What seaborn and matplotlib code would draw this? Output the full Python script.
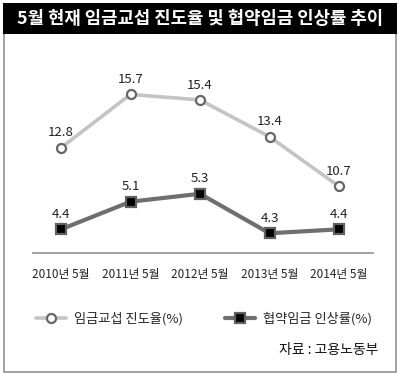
import numpy as np
import matplotlib
matplotlib.use("Agg")
import matplotlib.pyplot as plt
import seaborn as sns
from matplotlib.patches import Rectangle

years = ['2010년 5월', '2011년 5월', '2012년 5월', '2013년 5월', '2014년 5월']
progress_rate = [12.8, 15.7, 15.4, 13.4, 10.7]
wage_increase = [4.4, 5.1, 5.3, 4.3, 4.4]
progress_label = '임금교섭 진도율(%)'
wage_label = '협약임금 인상률(%)'
title_text = '5월 현재 임금교섭 진도율 및 협약임금 인상률 추이'
source_text = '자료 : 고용노동부'

sns.set_style('white')
plt.rcParams['font.family'] = ['Noto Sans CJK KR', 'DejaVu Sans']

W, H = 400, 380
fig = plt.figure(figsize=(4, 3.8), dpi=100)


def px_box(x0, y0, x1, y1):
    # pixel box (top-left origin) -> figure fraction rect
    return [x0 / W, 1 - y1 / H, (x1 - x0) / W, (y1 - y0) / H]


# frame and title bar
fig.patches.append(Rectangle((4 / W, 1 - 372 / H), 392 / W, 340 / H, transform=fig.transFigure,
                             facecolor='none', edgecolor='#9a9a9a', linewidth=1.3))
fig.patches.append(Rectangle((3 / W, 1 - 34 / H), 394 / W, 31 / H, transform=fig.transFigure,
                             facecolor='black', edgecolor='none'))
fig.text(0.5, 1 - 19 / H, title_text, color='white', fontsize=12.8, fontweight='bold',
         ha='center', va='center')

ax = fig.add_axes(px_box(33, 60, 373, 253))
ax2 = ax.twinx()
x = np.arange(len(years))

sns.lineplot(x=x, y=progress_rate, ax=ax2, color='#c4c4c4', linewidth=2.6, marker='o',
             markersize=6.5, markerfacecolor='white', markeredgecolor='#666666',
             markeredgewidth=1.6, label=progress_label, legend=False)
sns.lineplot(x=x, y=wage_increase, ax=ax, color='#6f6f6f', linewidth=3.0, marker='s',
             markersize=7, markerfacecolor='black', markeredgecolor='#606060',
             markeredgewidth=1.6, label=wage_label, legend=False)

for a, vals in ((ax2, progress_rate), (ax, wage_increase)):
    for i, v in enumerate(vals):
        a.annotate(f'{v}', (i, v), xytext=(0, 6), textcoords='offset points',
                   ha='center', va='bottom', fontsize=9.5, color='#222222')

ax.set_xlim(-0.403, 4.489)
ax.set_ylim(3.80, 8.69)
ax2.set_ylim(7.08, 17.57)

for a in (ax, ax2):
    for side in ('top', 'right', 'left'):
        a.spines[side].set_visible(False)
    a.set_yticks([])
    a.set_ylabel('')
ax2.spines['bottom'].set_visible(False)
ax.spines['bottom'].set_color('#999999')
ax.spines['bottom'].set_linewidth(1.3)

ax.set_xticks(x)
ax.set_xticklabels(years, fontsize=8.5, color='#222222')
ax.set_xticks([0.5, 1.5, 2.5, 3.5], minor=True)
ax.tick_params(axis='x', which='major', length=0, pad=11)
ax.tick_params(axis='x', which='minor', length=3.5, width=1, color='#999999', direction='out')
ax.set_facecolor('none')

h1, l1 = ax2.get_legend_handles_labels()
h2, l2 = ax.get_legend_handles_labels()
fig.legend(h1 + h2, l1 + l2, loc='center', bbox_to_anchor=(0.51, 1 - 319 / H), ncol=2,
           frameon=False, fontsize=9.5, handlelength=2.3, columnspacing=3.2, handletextpad=0.6)

fig.text(378 / W, 1 - 350 / H, source_text, ha='right', va='center', fontsize=10, color='#111111')

fig.savefig('out.png', dpi=100)
